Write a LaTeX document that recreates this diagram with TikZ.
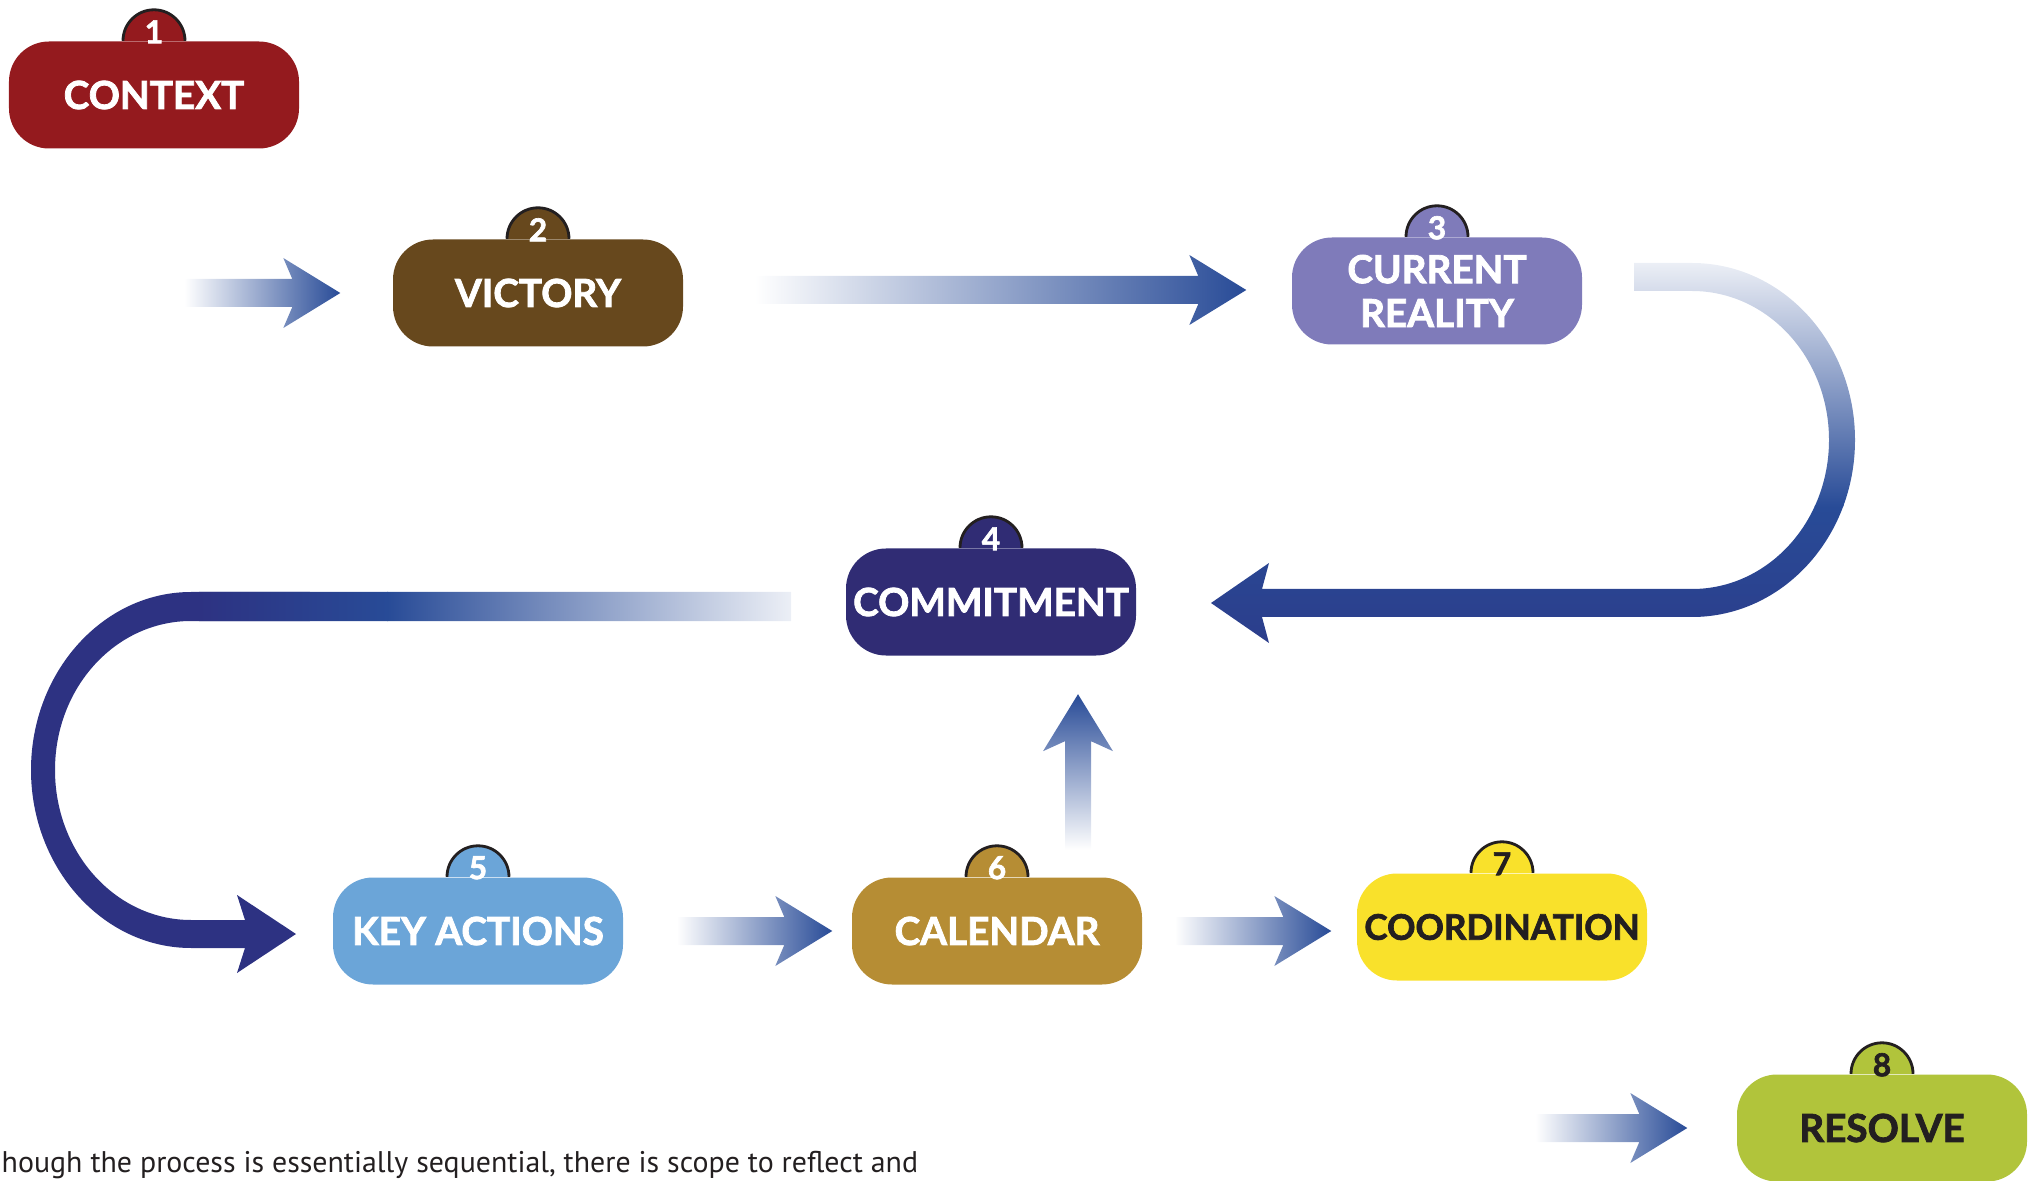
\documentclass[tikz,border=0pt]{standalone}
\usepackage{fontspec}
\setmainfont{Lato}[BoldFeatures={FakeBold=2}]
\newfontfamily\notefont{PT Sans}
\usetikzlibrary{calc}

\definecolor{ctxred}{HTML}{941A1E}
\definecolor{vicbrown}{HTML}{67481D}
\definecolor{reallav}{HTML}{7F7BBA}
\definecolor{comnavy}{HTML}{302C74}
\definecolor{keyblue}{HTML}{6BA5D8}
\definecolor{calochre}{HTML}{B68D34}
\definecolor{coordyel}{HTML}{F9E12B}
\definecolor{reslime}{HTML}{B1C43B}
\definecolor{inkdark}{HTML}{231F20}
\definecolor{arrowblue}{HTML}{284B97}
\definecolor{arrowdeep}{HTML}{2C3D8B}
\definecolor{arrownavy}{HTML}{2D3282}

\tikzset{
  stepbox/.style={rounded corners=0.4cm, minimum width=2.9cm, minimum height=1.07cm,
    inner sep=0pt, align=center, text=white, font=\fontsize{11}{12.5}\selectfont\bfseries},
  tabnum/.style={inner sep=0pt, font=\fontsize{9}{9}\selectfont\bfseries},
  fatshade/.style={left color=white, right color=arrowblue},
}

% fat arrow pointing right, from tail to tip
\newcommand{\rarrow}[2]{%
  \shade[fatshade] let \p1=(#1), \p2=(#2) in
    (\x1,\y1+0.14cm) -- (\x2-0.48cm,\y1+0.14cm) -- (\x2-0.57cm,\y1+0.35cm) -- (\x2,\y1)
    -- (\x2-0.57cm,\y1-0.35cm) -- (\x2-0.48cm,\y1-0.14cm) -- (\x1,\y1-0.14cm) -- cycle;}

\begin{document}
\begin{tikzpicture}
\useasboundingbox (0,0) rectangle (20.35,11.8);

% steps
\node[stepbox, fill=ctxred] (context) at (1.54,10.85) {CONTEXT};
\node[stepbox, fill=vicbrown] (victory) at (5.38,8.87) {VICTORY};
\node[stepbox, fill=reallav] (reality) at (14.37,8.89) {CURRENT\\REALITY};
\node[stepbox, fill=comnavy] (commit) at (9.91,5.78) {COMMITMENT};
\node[stepbox, fill=keyblue] (keyact) at (4.78,2.49) {KEY ACTIONS};
\node[stepbox, fill=calochre] (calendar) at (9.97,2.49) {CALENDAR};
\node[stepbox, fill=coordyel, text=inkdark, font=\fontsize{10}{12}\selectfont\bfseries] (coord) at (15.02,2.53) {COORDINATION};
\node[stepbox, fill=reslime, text=inkdark] (resolve) at (18.82,0.52) {RESOLVE};

% number tabs
\foreach \b/\n/\c/\t in {context/1/ctxred/white, victory/2/vicbrown/white,
    reality/3/reallav/white, commit/4/comnavy/white, keyact/5/keyblue/white,
    calendar/6/calochre/white, coord/7/coordyel/inkdark, resolve/8/reslime/inkdark}{
  \filldraw[fill=\c, draw=inkdark, line width=0.8pt] ($(\b.north)+(-0.31,0)$) arc[start angle=180, end angle=0, radius=0.31];
  \node[tabnum, text=\t] (tab\n) at ($(\b.north)+(0,0.09)$) {\n};
}

% straight arrows
\rarrow{$(victory.west)+(-2.08,0)$}{$(victory.west)+(-0.52,0)$}
\rarrow{$(victory.east)+(0.71,0.03)$}{$(reality.west)+(-0.45,0)$}
\rarrow{$(keyact.east)+(0.53,0)$}{$(calendar.west)+(-0.19,0)$}
\rarrow{$(calendar.east)+(0.32,0)$}{$(coord.west)+(-0.25,0)$}
\rarrow{$(resolve.west)+(-2.01,0)$}{$(resolve.west)+(-0.49,0)$}

% calendar back up to commitment
\shade[bottom color=white, top color=arrowblue] let \p1=($(calendar.north)+(0.81,0.27)$), \p2=($(commit.south)+(0.87,-0.38)$) in
  (\x1-0.13cm,\y1) -- (\x1-0.13cm,\y2-0.47cm) -- (\x1-0.35cm,\y2-0.57cm) -- (\x1,\y2)
  -- (\x1+0.35cm,\y2-0.57cm) -- (\x1+0.13cm,\y2-0.47cm) -- (\x1+0.13cm,\y1) -- cycle;

% current reality round to commitment
\begin{scope}
  \clip (16.34,9.17) -- (16.92,9.17) .. controls (17.82,9.17) and (18.55,8.38) .. (18.55,7.40)
    .. controls (18.55,6.42) and (17.82,5.63) .. (16.92,5.63) -- (12.62,5.63) -- (12.69,5.37)
    -- (12.11,5.77) -- (12.69,6.17) -- (12.62,5.91) -- (16.92,5.91)
    .. controls (17.68,5.91) and (18.29,6.58) .. (18.29,7.40)
    .. controls (18.29,8.22) and (17.68,8.89) .. (16.92,8.89) -- (16.34,8.89) -- cycle;
  \shade[top color=arrowblue, bottom color=arrowdeep] (12,5.3) rectangle (18.6,6.74);
  \shade[top color=arrowblue!8, bottom color=arrowblue] (12,6.73) rectangle (18.6,9.2);
\end{scope}

% commitment round to key actions
\begin{scope}
  \clip (7.91,5.88) -- (1.91,5.88) .. controls (1.03,5.88) and (0.31,5.08) .. (0.31,4.10)
    .. controls (0.31,3.12) and (1.03,2.32) .. (1.91,2.32) -- (2.45,2.32) -- (2.37,2.07)
    -- (2.96,2.46) -- (2.37,2.85) -- (2.45,2.60) -- (1.91,2.60)
    .. controls (1.16,2.60) and (0.55,3.27) .. (0.55,4.10)
    .. controls (0.55,4.93) and (1.16,5.59) .. (1.91,5.59) -- (7.91,5.59) -- cycle;
  \fill[arrownavy] (0,1.9) rectangle (3.1,6);
  \shade[left color=arrownavy, right color=arrowblue] (1.99,5.5) rectangle (3.88,6);
  \shade[left color=arrowblue, right color=arrowblue!8] (3.87,5.5) rectangle (7.95,6);
\end{scope}

\node[anchor=base west, inner sep=0pt, text=inkdark, font=\notefont\fontsize{8.5}{9}\selectfont] (note) at (0.01,0.08)
  {hough the process is essentially sequential, there is scope to reflect and};
\end{tikzpicture}
\end{document}
